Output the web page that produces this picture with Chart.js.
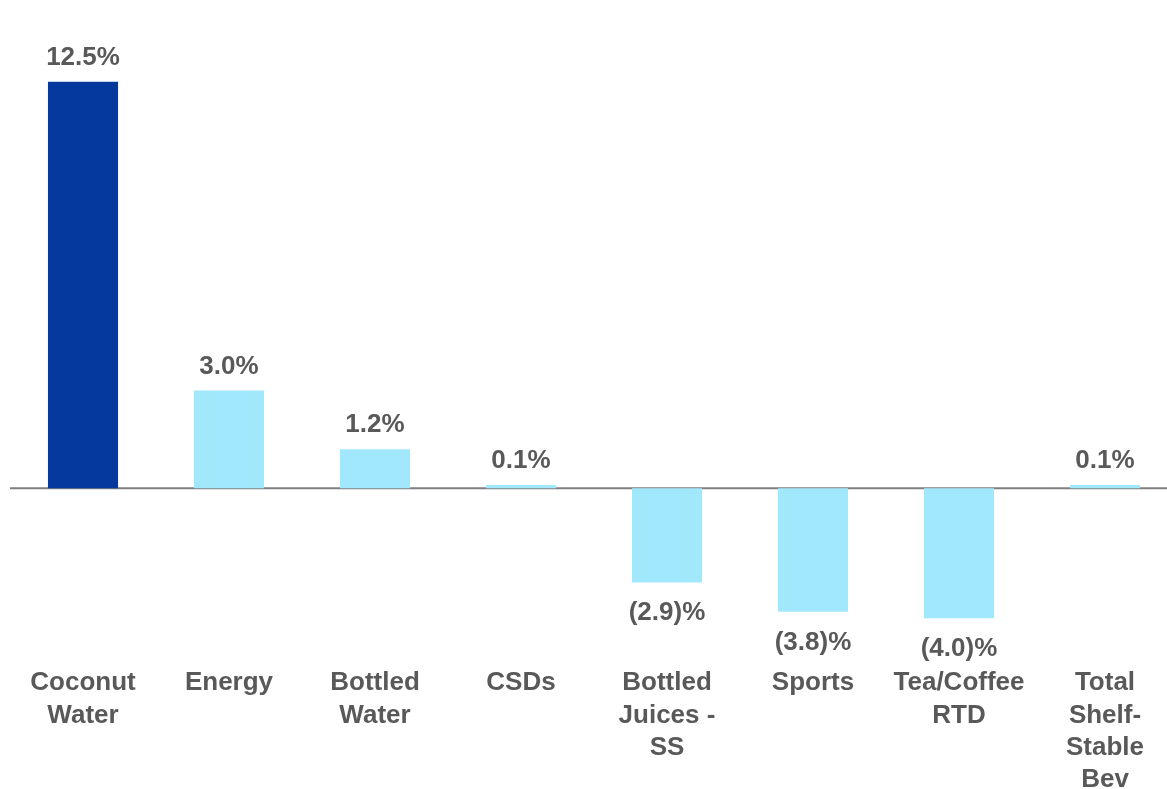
<!DOCTYPE html>
<html>
<head>
<meta charset="utf-8">
<script src="https://cdn.jsdelivr.net/npm/chart.js@4/dist/chart.umd.min.js"></script>
<style>
  html, body { margin: 0; padding: 0; overflow: hidden; background: #fff; }
  #wrap { width: 1178px; height: 800px; }
</style>
</head>
<body>
<div id="wrap"><canvas id="myChart"></canvas></div>
<script>
const categories = [
    ['Coconut', 'Water'],
    'Energy',
    ['Bottled', 'Water'],
    'CSDs',
    ['Bottled', 'Juices -', 'SS'],
    'Sports',
    ['Tea/Coffee', 'RTD'],
    ['Total', 'Shelf-', 'Stable', 'Bev']
];
const growth = [12.5, 3.0, 1.2, 0.1, -2.9, -3.8, -4.0, 0.1];
const barColors = ['#06399E', '#A2E8FC', '#A2E8FC', '#A2E8FC', '#A2E8FC', '#A2E8FC', '#A2E8FC', '#A2E8FC'];

const textColor = '#595959';
const fontFamily = "'Liberation Sans', Arial, sans-serif";

function formatPct(v) {
    return v < 0 ? '(' + Math.abs(v).toFixed(1) + ')%' : v.toFixed(1) + '%';
}

// linea del cero
const zeroLine = {
    id: 'zeroLine',
    beforeDatasetsDraw(chart) {
        const { ctx, chartArea, scales } = chart;
        const y = scales.y.getPixelForValue(0);
        ctx.save();
        ctx.strokeStyle = '#7F7F7F';
        ctx.lineWidth = 2;
        ctx.beginPath();
        ctx.moveTo(chartArea.left, y);
        ctx.lineTo(chartArea.right, y);
        ctx.stroke();
        ctx.restore();
    }
};

// etiquetas de valores
const valueLabels = {
    id: 'valueLabels',
    afterDatasetsDraw(chart) {
        const { ctx } = chart;
        const meta = chart.getDatasetMeta(0);
        ctx.save();
        ctx.fillStyle = textColor;
        ctx.font = 'bold 26px ' + fontFamily;
        ctx.textAlign = 'center';
        ctx.textBaseline = 'alphabetic';
        meta.data.forEach(function(bar, i) {
            const v = growth[i];
            const y = v < 0 ? bar.y + 38 : bar.y - 17;
            ctx.fillText(formatPct(v), bar.x, y);
        });
        ctx.restore();
    }
};

const ctx = document.getElementById('myChart');

new Chart(ctx, {
    type: 'bar',
    data: {
        labels: categories,
        datasets: [{
            data: growth,
            backgroundColor: barColors,
            borderWidth: 0,
            barPercentage: 0.48,
            categoryPercentage: 1.0
        }]
    },
    options: {
        responsive: true,
        maintainAspectRatio: false,
        animation: false,
        layout: {
            padding: { top: 33, left: 10, right: 0, bottom: 0 }
        },
        plugins: {
            legend: { display: false },
            tooltip: { enabled: false }
        },
        scales: {
            x: {
                grid: { display: false, drawTicks: false },
                border: { display: false },
                ticks: {
                    color: textColor,
                    padding: 4,
                    maxRotation: 0,
                    autoSkip: false,
                    font: { family: fontFamily, size: 26, weight: 'bold', lineHeight: 1.24 }
                }
            },
            y: {
                display: false,
                min: -5.38,
                max: 14.0
            }
        }
    },
    plugins: [zeroLine, valueLabels]
});
</script>
</body>
</html>
